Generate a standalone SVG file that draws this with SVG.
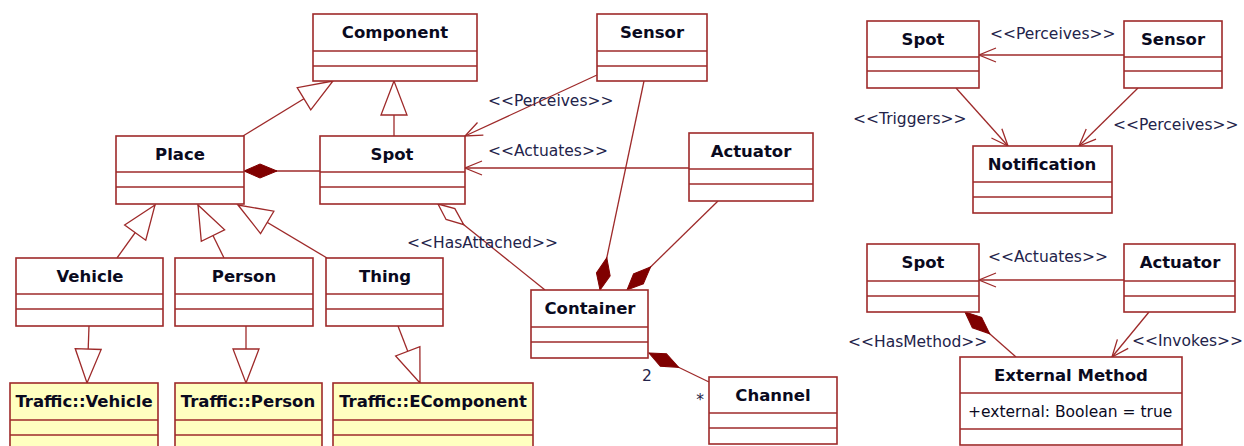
<svg xmlns="http://www.w3.org/2000/svg" width="1244" height="446" viewBox="0 0 1244 446">
<style>
.box{fill:#fff;stroke:#9e2a2a;stroke-width:1.6}
.lib{fill:#ffffc0}
.dv{stroke:#9e2a2a;stroke-width:1.6}
.nm{font-family:"DejaVu Sans",sans-serif;font-weight:bold;font-size:16.5px;fill:#0a0a1e;text-anchor:middle}
.at{font-family:"DejaVu Sans",sans-serif;font-size:15.5px;fill:#0a0a1e}
.lb{font-family:"DejaVu Sans",sans-serif;font-size:15.5px;fill:#23234a}
.c{fill:none;stroke:#9e2a2a;stroke-width:1.3}
.gen{marker-end:url(#gen)}
.dep{marker-end:url(#open)}
.cmp{marker-start:url(#comp)}
.agg{marker-start:url(#agg)}
</style>
<defs>
<marker id="gen" markerUnits="userSpaceOnUse" viewBox="-36 -15 38 30" refX="0" refY="0" markerWidth="38" markerHeight="30" orient="auto" overflow="visible"><path d="M0,0 L-34,-13 L-34,13 Z" fill="#fff" stroke="#9e2a2a" stroke-width="1.3"/></marker>
<marker id="open" markerUnits="userSpaceOnUse" viewBox="-20 -10 22 20" refX="0" refY="0" markerWidth="22" markerHeight="20" orient="auto" overflow="visible"><path d="M-17,-7 L0,0 L-17,7" fill="none" stroke="#9e2a2a" stroke-width="1.3"/></marker>
<marker id="comp" markerUnits="userSpaceOnUse" viewBox="-2 -9 38 18" refX="0" refY="0" markerWidth="38" markerHeight="18" orient="auto" overflow="visible"><path d="M0,0 L16,-7 L33,0 L16,7 Z" fill="#800000" stroke="#800000" stroke-width="1"/></marker>
<marker id="agg" markerUnits="userSpaceOnUse" viewBox="-2 -9 38 18" refX="0" refY="0" markerWidth="38" markerHeight="18" orient="auto" overflow="visible"><path d="M0,0 L16,-7 L33,0 L16,7 Z" fill="#fff" stroke="#9e2a2a" stroke-width="1.3"/></marker>
</defs>

<g id="connectors">
<path class="c gen" d="M243,136 L333,81"/>
<path class="c gen" d="M394,136 L394,81"/>
<path class="c cmp" d="M244,171 L320,171"/>
<path class="c dep" d="M597,75 L465,136"/>
<path class="c dep" d="M689,168 L465,168"/>
<path class="c agg" d="M438,204 L545,290"/>
<path class="c cmp" d="M600,290 L644,81"/>
<path class="c cmp" d="M627,290 L718,201"/>
<path class="c cmp" d="M649,353 L709,382"/>
<path class="c gen" d="M89,326 L87,383"/>
<path class="c gen" d="M246,326 L246,383"/>
<path class="c gen" d="M398,326 L420,383"/>
<path class="c gen" d="M117,258 L155,205"/>
<path class="c gen" d="M224,258 L198,205"/>
<path class="c gen" d="M327,258 L238,205"/>
<path class="c dep" d="M1124,55 L979,55"/>
<path class="c dep" d="M956,88 L1008,146"/>
<path class="c dep" d="M1138,88 L1079,146"/>
<path class="c dep" d="M1124,280 L979,280"/>
<path class="c cmp" d="M965,312 L1016,357"/>
<path class="c dep" d="M1149,312 L1112,357"/>
<text class="lb" x="488" y="106">&lt;&lt;Perceives&gt;&gt;</text>
<text class="lb" x="488" y="156">&lt;&lt;Actuates&gt;&gt;</text>
<text class="lb" x="407" y="248">&lt;&lt;HasAttached&gt;&gt;</text>
<text class="lb" x="647" y="381" text-anchor="middle">2</text>
<text class="lb" x="700" y="405" text-anchor="middle">*</text>
<text class="lb" x="990" y="39">&lt;&lt;Perceives&gt;&gt;</text>
<text class="lb" x="853" y="124">&lt;&lt;Triggers&gt;&gt;</text>
<text class="lb" x="1113" y="130">&lt;&lt;Perceives&gt;&gt;</text>
<text class="lb" x="988" y="262">&lt;&lt;Actuates&gt;&gt;</text>
<text class="lb" x="848" y="347">&lt;&lt;HasMethod&gt;&gt;</text>
<text class="lb" x="1132" y="346">&lt;&lt;Invokes&gt;&gt;</text>
</g>

<g id="component"><rect class="box" x="313" y="14" width="164" height="67"/><line class="dv" x1="313" y1="51" x2="477" y2="51"/><line class="dv" x1="313" y1="66" x2="477" y2="66"/><text class="nm" x="395" y="38">Component</text></g>
<g id="sensor"><rect class="box" x="597" y="14" width="110" height="67"/><line class="dv" x1="597" y1="51" x2="707" y2="51"/><line class="dv" x1="597" y1="66" x2="707" y2="66"/><text class="nm" x="652" y="38">Sensor</text></g>
<g id="place"><rect class="box" x="116" y="136" width="128" height="68"/><line class="dv" x1="116" y1="172" x2="244" y2="172"/><line class="dv" x1="116" y1="187" x2="244" y2="187"/><text class="nm" x="180" y="160">Place</text></g>
<g id="spot"><rect class="box" x="320" y="136" width="145" height="68"/><line class="dv" x1="320" y1="172" x2="465" y2="172"/><line class="dv" x1="320" y1="187" x2="465" y2="187"/><text class="nm" x="392" y="160">Spot</text></g>
<g id="actuator"><rect class="box" x="689" y="133" width="124" height="68"/><line class="dv" x1="689" y1="169" x2="813" y2="169"/><line class="dv" x1="689" y1="184" x2="813" y2="184"/><text class="nm" x="751" y="157">Actuator</text></g>
<g id="vehicle"><rect class="box" x="16" y="258" width="147" height="68"/><line class="dv" x1="16" y1="294" x2="163" y2="294"/><line class="dv" x1="16" y1="309" x2="163" y2="309"/><text class="nm" x="90" y="282">Vehicle</text></g>
<g id="person"><rect class="box" x="175" y="258" width="138" height="68"/><line class="dv" x1="175" y1="294" x2="313" y2="294"/><line class="dv" x1="175" y1="309" x2="313" y2="309"/><text class="nm" x="244" y="282">Person</text></g>
<g id="thing"><rect class="box" x="326" y="258" width="117" height="68"/><line class="dv" x1="326" y1="294" x2="443" y2="294"/><line class="dv" x1="326" y1="309" x2="443" y2="309"/><text class="nm" x="385" y="282">Thing</text></g>
<g id="container"><rect class="box" x="531" y="290" width="117" height="68"/><line class="dv" x1="531" y1="327" x2="648" y2="327"/><line class="dv" x1="531" y1="342" x2="648" y2="342"/><text class="nm" x="590" y="314">Container</text></g>
<g id="channel"><rect class="box" x="709" y="377" width="128" height="67"/><line class="dv" x1="709" y1="413" x2="837" y2="413"/><line class="dv" x1="709" y1="428" x2="837" y2="428"/><text class="nm" x="773" y="401">Channel</text></g>
<g id="traffic-vehicle"><rect class="box lib" x="10" y="383" width="148" height="68"/><line class="dv" x1="10" y1="420" x2="158" y2="420"/><line class="dv" x1="10" y1="435" x2="158" y2="435"/><text class="nm" x="84" y="407">Traffic::Vehicle</text></g>
<g id="traffic-person"><rect class="box lib" x="175" y="383" width="147" height="68"/><line class="dv" x1="175" y1="420" x2="322" y2="420"/><line class="dv" x1="175" y1="435" x2="322" y2="435"/><text class="nm" x="248" y="407">Traffic::Person</text></g>
<g id="traffic-ecomponent"><rect class="box lib" x="333" y="383" width="200" height="68"/><line class="dv" x1="333" y1="420" x2="533" y2="420"/><line class="dv" x1="333" y1="435" x2="533" y2="435"/><text class="nm" x="433" y="407">Traffic::EComponent</text></g>

<g id="spot2"><rect class="box" x="867" y="21" width="112" height="67"/><line class="dv" x1="867" y1="57" x2="979" y2="57"/><line class="dv" x1="867" y1="71" x2="979" y2="71"/><text class="nm" x="923" y="45">Spot</text></g>
<g id="sensor2"><rect class="box" x="1124" y="21" width="98" height="67"/><line class="dv" x1="1124" y1="57" x2="1222" y2="57"/><line class="dv" x1="1124" y1="71" x2="1222" y2="71"/><text class="nm" x="1173" y="45">Sensor</text></g>
<g id="notification"><rect class="box" x="973" y="146" width="139" height="67"/><line class="dv" x1="973" y1="182" x2="1112" y2="182"/><line class="dv" x1="973" y1="197" x2="1112" y2="197"/><text class="nm" x="1042" y="170">Notification</text></g>
<g id="spot3"><rect class="box" x="867" y="244" width="112" height="68"/><line class="dv" x1="867" y1="281" x2="979" y2="281"/><line class="dv" x1="867" y1="296" x2="979" y2="296"/><text class="nm" x="923" y="268">Spot</text></g>
<g id="actuator3"><rect class="box" x="1124" y="244" width="111" height="68"/><line class="dv" x1="1124" y1="281" x2="1235" y2="281"/><line class="dv" x1="1124" y1="296" x2="1235" y2="296"/><text class="nm" x="1180" y="268">Actuator</text></g>
<g id="external-method"><rect class="box" x="960" y="357" width="222" height="88"/><line class="dv" x1="960" y1="393" x2="1182" y2="393"/><line class="dv" x1="960" y1="429" x2="1182" y2="429"/><text class="nm" x="1071" y="381">External Method</text><text class="at" x="968" y="417">+external: Boolean = true</text></g>
</svg>
